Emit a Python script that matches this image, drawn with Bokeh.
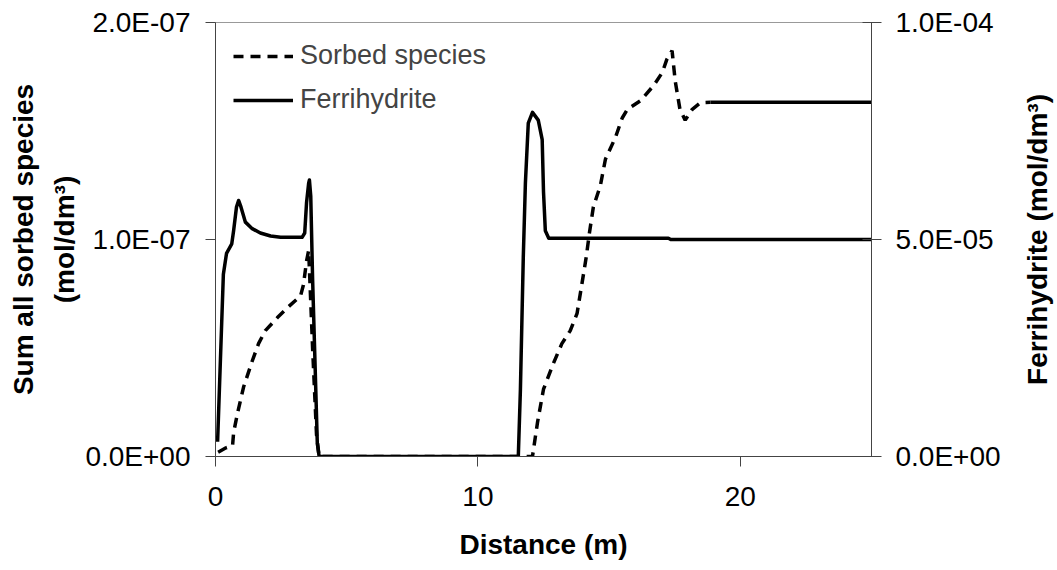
import math
from bokeh.plotting import figure
from bokeh.layouts import row
from bokeh.models import Range1d, LinearAxis, FixedTicker, Legend, LegendItem, Title
from bokeh.embed import file_html
from bokeh.resources import INLINE

# Ferrihydrite (mol/dm3), right axis
distance_fh = [0.08, 0.30, 0.42, 0.62, 0.69, 0.80, 0.88, 0.97, 1.14, 1.40, 1.71, 2.10,
               2.48, 3.30, 3.40, 3.47, 3.55, 3.58, 3.63, 3.70, 3.80, 3.88, 3.95,
               11.54, 11.62, 11.73, 11.81, 11.92, 12.08, 12.30, 12.45, 12.50, 12.57,
               12.70, 17.26, 17.35, 25.0]
ferrihydrite = [0.34e-5, 4.2e-5, 4.68e-5, 4.9e-5, 5.2e-5, 5.75e-5, 5.9e-5, 5.75e-5, 5.4e-5,
                5.25e-5, 5.15e-5, 5.08e-5, 5.05e-5, 5.05e-5, 5.15e-5, 5.85e-5, 6.3e-5,
                6.37e-5, 6.0e-5, 4.1e-5, 2.0e-5, 0.3e-5, 0.0,
                0.0, 1.54e-5, 4.6e-5, 6.3e-5, 7.68e-5, 7.93e-5, 7.75e-5, 7.3e-5, 6.1e-5,
                5.2e-5, 5.03e-5, 5.03e-5, 5.0e-5, 5.0e-5]

# Sum of all sorbed species (mol/dm3), left axis
distance_sorbed = [0.10, 0.40, 0.65, 0.69, 0.84, 1.07, 1.40, 1.64, 1.90, 2.36, 2.78, 3.24,
                   3.35, 3.47, 3.55, 3.70, 3.85, 3.95, 11.90, 12.08, 12.27, 12.50, 12.88,
                   13.20, 13.52, 13.78, 13.97, 14.13, 14.25, 14.40, 14.67, 14.86, 15.24,
                   15.50, 15.70, 16.20, 16.70, 17.03, 17.20, 17.40, 17.52, 17.70, 17.90,
                   18.17, 18.48, 18.86, 25.0]
sorbed = [0.02e-7, 0.04e-7, 0.05e-7, 0.11e-7, 0.20e-7, 0.32e-7, 0.44e-7, 0.52e-7, 0.58e-7,
          0.64e-7, 0.69e-7, 0.74e-7, 0.79e-7, 0.90e-7, 0.95e-7, 0.50e-7, 0.10e-7, 0.0,
          0.0, 0.0, 0.156e-7, 0.31e-7, 0.43e-7, 0.52e-7, 0.58e-7, 0.66e-7, 0.80e-7,
          0.92e-7, 1.03e-7, 1.15e-7, 1.25e-7, 1.37e-7, 1.47e-7, 1.56e-7, 1.60e-7, 1.64e-7,
          1.71e-7, 1.77e-7, 1.83e-7, 1.87e-7, 1.73e-7, 1.60e-7, 1.55e-7, 1.60e-7, 1.63e-7,
          1.632e-7, 1.632e-7]

x_ticks = [0, 10, 20]
left_ticks = [0, 1e-7, 2e-7]
left_tick_labels = ["0.0E+00", "1.0E-07", "2.0E-07"]
right_ticks = [0, 5e-5, 1e-4]
right_tick_labels = ["0.0E+00", "5.0E-05", "1.0E-04"]

FONT = "Liberation Sans"
AXIS_COLOR = "#444444"

fig = figure(width=1019, height=570, output_backend="svg", toolbar_location=None,
             x_range=Range1d(0, 25), y_range=Range1d(0, 2e-7),
             min_border_left=215, min_border_right=148, min_border_top=22,
             min_border_bottom=114)
fig.extra_y_ranges = {"fh": Range1d(0, 1e-4)}
fig.xgrid.visible = False
fig.ygrid.visible = False
fig.outline_line_color = "#999999"
fig.outline_line_width = 1
fig.background_fill_color = "white"
fig.border_fill_color = "white"

right_axis = LinearAxis(y_range_name="fh")
fig.add_layout(right_axis, "right")

def style_axis(ax):
    ax.axis_line_color = AXIS_COLOR
    ax.axis_line_width = 1
    ax.major_tick_line_color = AXIS_COLOR
    ax.minor_tick_line_color = None
    ax.major_label_text_font = FONT
    ax.major_label_text_font_size = "28px"
    ax.major_label_text_color = "black"
    ax.axis_label_text_font = FONT
    ax.axis_label_text_font_size = "28px"
    ax.axis_label_text_font_style = "bold"
    ax.axis_label_text_color = "black"

xa = fig.xaxis[0]
style_axis(xa)
xa.ticker = FixedTicker(ticks=x_ticks)
xa.major_tick_out = 10
xa.major_tick_in = 0
xa.major_label_standoff = 20
xa.axis_label = "Distance (m)"
xa.axis_label_standoff = 20

la = fig.yaxis[0]
style_axis(la)
la.ticker = FixedTicker(ticks=left_ticks)
la.major_label_overrides = {t: s for t, s in zip(left_ticks, left_tick_labels)}
la.major_tick_out = 10
la.major_tick_in = 0
la.major_label_standoff = 15
la.axis_label = "Sum all sorbed species\n(mol/dm³)"
la.axis_label_standoff = 2
la.axis_label_text_line_height = 1.35

style_axis(right_axis)
right_axis.ticker = FixedTicker(ticks=right_ticks)
right_axis.major_label_overrides = {t: s for t, s in zip(right_ticks, right_tick_labels)}
right_axis.major_tick_out = 10
right_axis.major_tick_in = 9
right_axis.major_label_standoff = 14

split = distance_sorbed.index(18.86)
r_sorbed = fig.line(distance_sorbed[:split + 1], sorbed[:split + 1], line_color="black",
                    line_width=3.5, line_dash="10 7")
fig.line(distance_sorbed[split:], sorbed[split:], line_color="black", line_width=3.5)
r_fh = fig.line(distance_fh, ferrihydrite, y_range_name="fh", line_color="black",
                line_width=3.5, line_join="round")

legend = Legend(items=[LegendItem(label="Sorbed species", renderers=[r_sorbed]),
                       LegendItem(label="Ferrihydrite", renderers=[r_fh])],
                location="top_left", margin=10, padding=8, spacing=13,
                glyph_width=60, label_standoff=7,
                label_text_font=FONT, label_text_font_size="27px",
                border_line_alpha=0, background_fill_alpha=0)
fig.add_layout(legend)

# Narrow strip carrying the right-hand axis title, reading bottom-to-top
side = figure(width=38, height=570, output_backend="svg", toolbar_location=None,
              x_axis_type=None, y_axis_type=None,
              min_border_left=0, min_border_right=0, min_border_top=22,
              min_border_bottom=114)
side.outline_line_color = None
side.background_fill_color = "white"
side.border_fill_color = "white"
side.add_layout(Title(text="Ferrihydrite (mol/dm³)", align="center", standoff=0,
                      text_font=FONT, text_font_size="28px", text_font_style="bold",
                      text_color="black"), "left")

p = row(fig, side, spacing=0)

open("out.html", "w").write(file_html(p, INLINE))
